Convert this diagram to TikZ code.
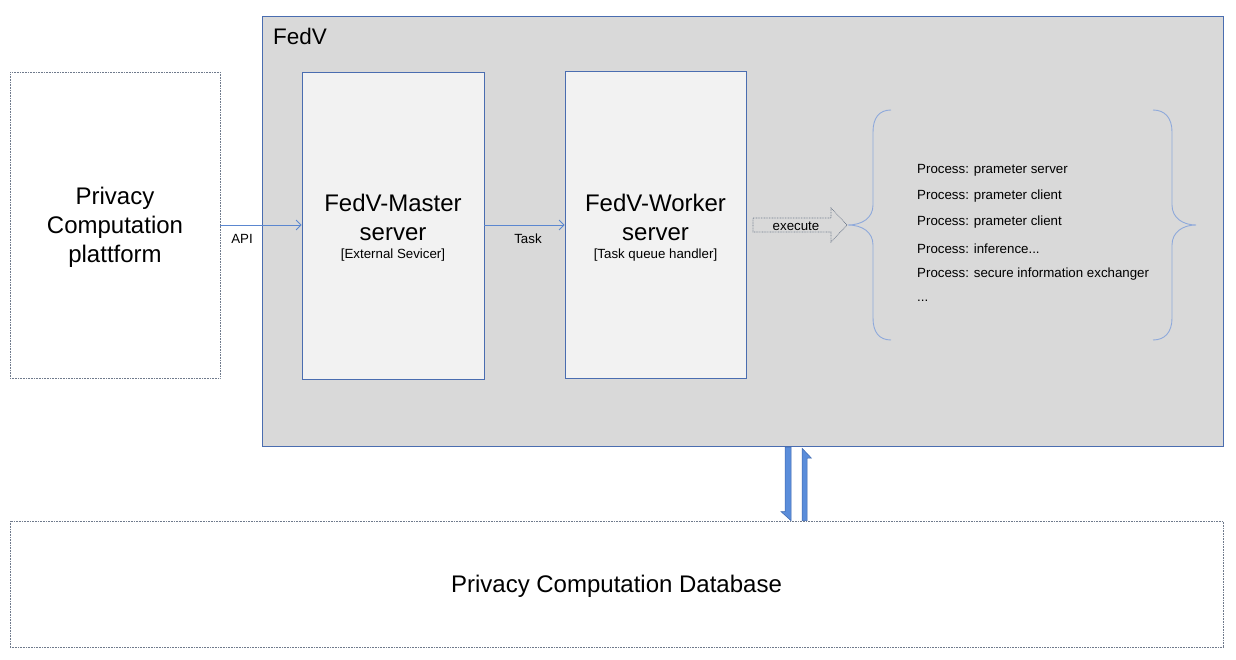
\documentclass[tikz,border=0pt]{standalone}
\usepackage{fontspec}
\setmainfont{Liberation Sans}
\usetikzlibrary{arrows.meta,calc}
\definecolor{boxblue}{HTML}{4A6DB0}
\definecolor{linkblue}{HTML}{5B87D0}
\definecolor{braceblue}{HTML}{8EA9DB}
\definecolor{fedvgray}{HTML}{D9D9D9}
\definecolor{srvfill}{HTML}{F2F2F2}
\definecolor{dotgray}{HTML}{6F7A8C}
\definecolor{barfill}{HTML}{5B8DDA}
\definecolor{barline}{HTML}{3D68AE}
\tikzset{
  dotbox/.style={draw=dotgray, dash pattern=on 0.8pt off 0.8pt, line width=0.7pt, fill=white, inner sep=0pt, align=center},
  srvbox/.style={draw=boxblue, line width=0.8pt, fill=srvfill, inner sep=0pt},
  bigtxt/.style={font=\fontsize{24}{29}\selectfont, align=center, inner sep=0pt},
  smalltxt/.style={font=\fontsize{13.3}{15}\selectfont, inner sep=0pt},
  proctxt/.style={font=\fontsize{13.3}{15}\selectfont, inner sep=0pt, anchor=west},
  link/.style={draw=linkblue, line width=0.8pt, -{Straight Barb[length=5pt,width=10pt]}},
  bracepath/.style={draw=braceblue, line width=0.9pt},
}
\begin{document}
\begin{tikzpicture}[x=1pt,y=-1pt]
\useasboundingbox (0,0) rectangle (1236,660);
% FedV container
\path[draw=boxblue, line width=0.8pt, fill=fedvgray] (262,16) rectangle (1223,446);
\node (fedv) [inner sep=0pt, minimum width=961pt, minimum height=430pt] at (742.5,231) {};
\node (fedvlbl) [anchor=base west, inner sep=0pt, font=\fontsize{22.5}{26}\selectfont] at (273,45) {FedV};
% left platform
\node (plat) [dotbox, minimum width=210pt, minimum height=306pt] at (115,225) {};
\node (plattxt) [bigtxt] at (115,227.5) {Privacy\\Computation\\plattform};
% master
\node (master) [srvbox, minimum width=182pt, minimum height=307pt] at (393,225.5) {};
\node (mastertxt) [bigtxt] at (393,217.5) {FedV-Master\\server};
\node (mastersub) [smalltxt] at (393,255.5) {[External Sevicer]};
% worker
\node (worker) [srvbox, minimum width=181pt, minimum height=307pt] at (655.5,224.5) {};
\node (workertxt) [bigtxt] at (655.5,217.5) {FedV-Worker\\server};
\node (workersub) [smalltxt] at (655.5,255.5) {[Task queue handler]};
% arrows
\draw[link] (plat.east |- 0,225) -- (master.west |- 0,225);
\node (api) [smalltxt] at (242,239) {API};
\draw[link] (master.east |- 0,225) -- (worker.west |- 0,225);
\node (task) [smalltxt] at (528,239) {Task};
% execute block arrow
\coordinate (exs) at (753,225);
\coordinate (ext) at (847,225);
\draw[draw=dotgray, dash pattern=on 0.8pt off 0.8pt, line width=0.7pt, fill=fedvgray]
  ($(exs)+(0,-7)$) -- ($(ext)+(-16,-7)$) -- ($(ext)+(-16,-17)$) -- (ext) -- ($(ext)+(-16,17)$) -- ($(ext)+(-16,7)$) -- ($(exs)+(0,7)$) -- cycle;
\node (exe) [smalltxt] at (796,226) {execute};
% braces
\draw[bracepath] (891,110) .. controls (879,110) and (873,118) .. (873,132) -- (873,205)
  .. controls (873,218) and (862,225) .. (848,225)
  .. controls (862,225) and (873,232) .. (873,245) -- (873,318)
  .. controls (873,332) and (879,340) .. (891,340);
\draw[bracepath] (1153,110) .. controls (1165,110) and (1172,118) .. (1172,132) -- (1172,205)
  .. controls (1172,218) and (1183,225) .. (1196,225)
  .. controls (1183,225) and (1172,232) .. (1172,245) -- (1172,318)
  .. controls (1172,332) and (1165,340) .. (1153,340);
% process list
\node (p1) [proctxt] at (917,170.5) {Process: prameter server};
\node (p2) [proctxt] at (917,196.5) {Process: prameter client};
\node (p3) [proctxt] at (917,222.5) {Process: prameter client};
\node (p4) [proctxt] at (917,248.5) {Process: inference...};
\node (p5) [proctxt] at (917,274.5) {Process: secure information exchanger};
\node (p6) [proctxt] at (917,300.5) {...};
% database
\node (db) [dotbox, minimum width=1213pt, minimum height=126pt] at (616.5,584) {};
\node (dbtxt) [bigtxt] at (616.5,586.5) {Privacy Computation Database};
% vertical arrows
\coordinate (dtop) at (fedv.south -| 788,0);
\coordinate (dbot) at (db.north -| 788,0);
\coordinate (utop) at (fedv.south -| 804.5,0);
\coordinate (ubot) at (db.north -| 804.5,0);
\draw[draw=barline, fill=barfill, line width=0.5pt]
  ($(dtop)+(-3,1)$) -- ($(dtop)+(3,1)$) -- ($(dbot)+(3,0)$) -- ($(dbot)+(-7,-9)$) -- ($(dbot)+(-3,-9)$) -- cycle;
\draw[draw=barline, fill=barfill, line width=0.5pt]
  ($(ubot)+(-2.5,0)$) -- ($(ubot)+(2.5,0)$) -- ($(utop)+(2.5,12)$) -- ($(utop)+(7,12)$) -- ($(utop)+(-2.5,2)$) -- cycle;
\end{tikzpicture}
\end{document}
